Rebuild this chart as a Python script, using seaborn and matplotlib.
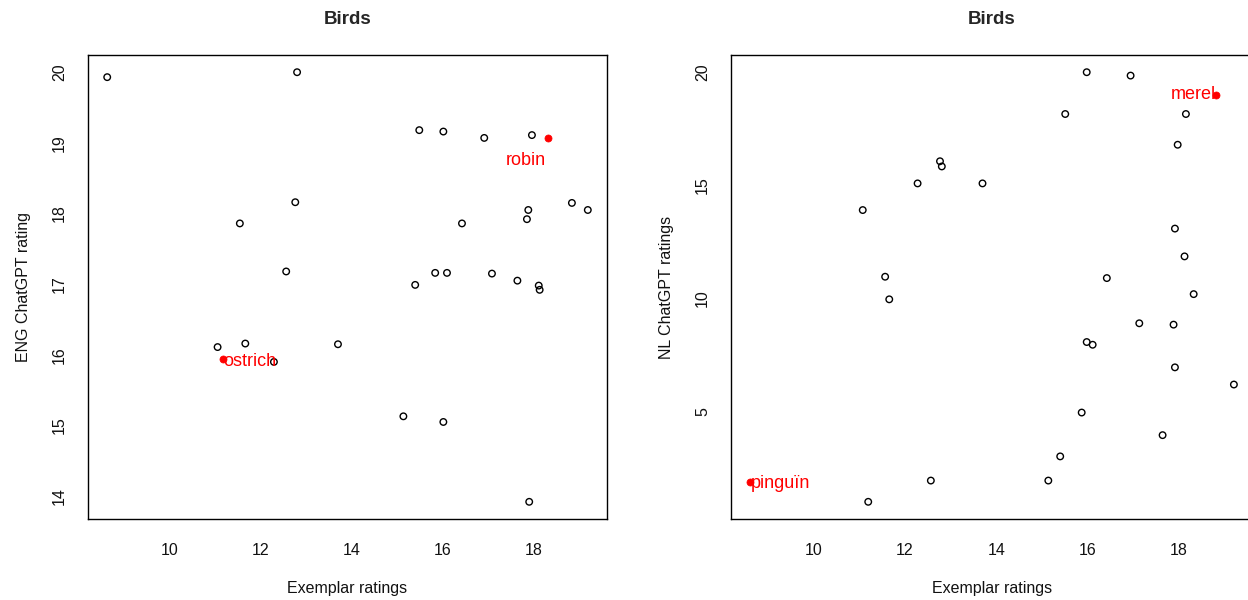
import matplotlib
matplotlib.use("Agg")
import matplotlib.pyplot as plt
import seaborn as sns
import pandas as pd

# English ChatGPT ratings vs exemplar ratings
eng_exemplar = [8.62, 12.80, 12.76, 11.54, 12.56, 15.49, 16.02, 16.92, 17.97, 18.85,
                19.20, 17.89, 17.86, 16.43, 15.84, 16.10, 17.09, 17.65, 15.40, 18.12,
                18.14, 15.14, 16.02, 17.91, 11.05, 11.66, 12.29, 13.70]
eng_rating = [19.93, 20.00, 18.16, 17.86, 17.18, 19.18, 19.16, 19.07, 19.11, 18.15,
              18.05, 18.05, 17.92, 17.86, 17.16, 17.16, 17.15, 17.05, 16.99, 16.98,
              16.92, 15.13, 15.05, 13.92, 16.11, 16.16, 15.90, 16.15]
eng_highlight = ["robin", "ostrich"]
eng_highlight_x = [18.32, 11.18]
eng_highlight_y = [19.07, 15.94]

# Dutch ChatGPT ratings vs exemplar ratings
nl_exemplar = [12.77, 12.81, 12.28, 13.70, 11.08, 11.57, 15.98, 16.94, 15.51, 18.15,
               17.97, 17.91, 18.12, 16.42, 11.66, 12.57, 11.20, 18.32, 17.13, 17.88,
               15.98, 16.11, 17.91, 19.20, 15.87, 17.64, 15.40, 15.14]
nl_rating = [16.06, 15.83, 15.08, 15.08, 13.90, 10.95, 20.00, 19.85, 18.15, 18.15,
             16.79, 13.08, 11.85, 10.89, 9.95, 1.93, 0.99, 10.18, 8.89, 8.83,
             8.06, 7.94, 6.94, 6.18, 4.94, 3.94, 3.00, 1.93]
nl_highlight = ["merel", "pinguïn"]
nl_highlight_x = [18.81, 8.62]
nl_highlight_y = [19.00, 1.88]


def r_limits(values):
    # R-style axis range: data range padded by 4% on each side
    lo, hi = min(values), max(values)
    pad = (hi - lo) * 0.04
    return lo - pad, hi + pad


sns.set_style("white")
plt.rcParams["font.family"] = ["Liberation Sans", "DejaVu Sans"]
plt.rcParams["axes.edgecolor"] = "black"
plt.rcParams["axes.linewidth"] = 1.0

fig = plt.figure(figsize=(12.48, 6), dpi=100)
ax1 = fig.add_axes([0.0705, 0.135, 0.4159, 0.7733])
ax2 = fig.add_axes([0.5857, 0.135, 0.4185, 0.7733])

panels = [
    (ax1, eng_exemplar, eng_rating, eng_highlight, eng_highlight_x, eng_highlight_y,
     "ENG ChatGPT rating", [14, 15, 16, 17, 18, 19, 20],
     [(-16, -16, "center", "center"), (0, -2, "left", "center")]),
    (ax2, nl_exemplar, nl_rating, nl_highlight, nl_highlight_x, nl_highlight_y,
     "NL ChatGPT ratings", [5, 10, 15, 20],
     [(0, 0, "right", "center"), (0, -1, "left", "center")]),
]

for ax, ex, rt, names, hx, hy, ylab, yticks, offsets in panels:
    df = pd.DataFrame({"x": ex, "y": rt})
    sns.scatterplot(data=df, x="x", y="y", ax=ax, marker="o", s=22,
                    facecolors="none", edgecolors="black", linewidth=1.0)
    hdf = pd.DataFrame({"x": hx, "y": hy, "name": names})
    sns.scatterplot(data=hdf, x="x", y="y", ax=ax, marker="o", s=26,
                    color="red", edgecolor="red", linewidth=0.5)
    for (name, px, py), (dx, dy, ha, va) in zip(zip(names, hx, hy), offsets):
        ax.annotate(name, (px, py), xytext=(dx, dy), textcoords="offset points",
                    ha=ha, va=va, color="red", fontsize=13)

    ax.set_xlim(r_limits(ex + hx))
    ax.set_ylim(r_limits(rt + hy))
    ax.set_xticks([10, 12, 14, 16, 18])
    ax.set_yticks(yticks)
    ax.tick_params(axis="both", direction="out", length=7, width=1,
                   color="black", labelsize=11.5, labelcolor="#111111")
    ax.tick_params(axis="x", pad=10)
    ax.tick_params(axis="y", pad=8)
    for lab in ax.get_yticklabels():
        lab.set_rotation(90)
        lab.set_va("center")
    ax.set_xlabel("Exemplar ratings", fontsize=11.5, labelpad=17, color="#111111")
    ax.set_ylabel(ylab, fontsize=11.5, labelpad=15, color="#111111")
    ax.set_title("Birds", fontsize=13.5, fontweight="bold", pad=22)
    for sp in ax.spines.values():
        sp.set_visible(True)
        sp.set_color("black")

fig.savefig("out.png", dpi=100)
